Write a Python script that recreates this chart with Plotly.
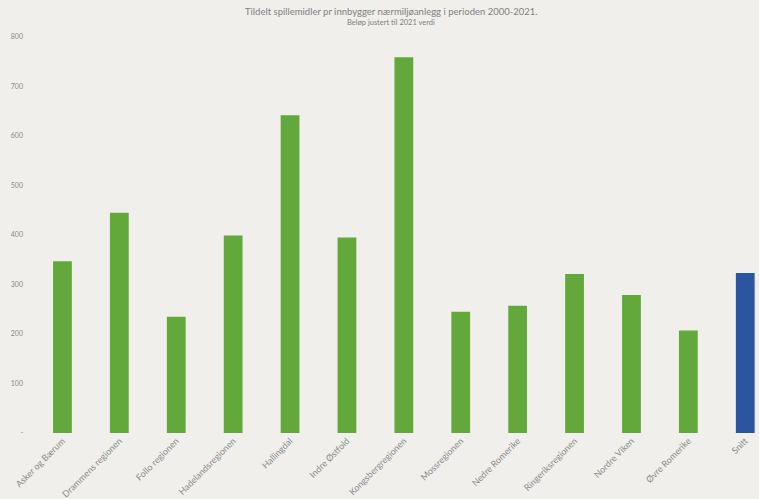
import plotly.graph_objects as go

categories = ["Asker og Bærum", "Drammens regionen", "Follo regionen", "Hadelandsregionen",
              "Hallingdal", "Indre Østfold", "Kongsbergregionen", "Mossregionen",
              "Nedre Romerike", "Ringeriksregionen", "Nordre Viken", "Øvre Romerike", "Snitt"]
values = [347, 445, 235, 399, 642, 395, 759, 245, 257, 321, 279, 207, 323]
colors = ["#62a83a"] * 12 + ["#2b559e"]

y_tickvals = [0, 100, 200, 300, 400, 500, 600, 700, 800]
y_ticktext = ["-", "100", "200", "300", "400", "500", "600", "700", "800"]

title_text = "Tildelt spillemidler pr innbygger nærmiljøanlegg i perioden 2000-2021."
subtitle_text = "Beløp justert til 2021 verdi"

fig = go.Figure(go.Bar(x=categories, y=values, marker=dict(color=colors, line=dict(width=0)),
                       width=0.33))

W, H = 759, 499
left, right_px, top, bottom_px = 34, 759, 37, 433
pitch = 56.9
plot_h = bottom_px - top
plot_w = right_px - left
title_cx = 391


def paper_y(px):
    return (bottom_px - px) / plot_h


def paper_x(px):
    return (px - left) / plot_w


fig.add_annotation(text=title_text, xref="paper", yref="paper", x=paper_x(title_cx),
                   y=paper_y(12), xanchor="center", yanchor="middle", showarrow=False,
                   font=dict(size=9.5, color="#808080"))
fig.add_annotation(text=subtitle_text, xref="paper", yref="paper", x=paper_x(title_cx),
                   y=paper_y(22.5), xanchor="center", yanchor="middle", showarrow=False,
                   font=dict(size=7.5, color="#808080"))

fig.update_layout(
    width=W, height=H,
    margin=dict(l=left, r=W - right_px, t=top, b=H - bottom_px),
    paper_bgcolor="#f0efeb", plot_bgcolor="#f0efeb",
    font=dict(family="Lato, Open Sans, sans-serif", color="#8a8a8a", size=7),
    showlegend=False,
    xaxis=dict(range=[-0.5, -0.5 + plot_w / pitch], tickangle=-45,
               showgrid=False, showline=False, ticks="", tickfont=dict(size=9, color="#8a8a8a")),
    yaxis=dict(range=[0, 800], tickvals=y_tickvals, ticktext=y_ticktext, showgrid=False,
               zeroline=False, showline=False, ticks="", ticklabelstandoff=10,
               tickfont=dict(size=7, color="#8a8a8a")),
)
fig.write_html("out.html", config={"displayModeBar": False},
               post_script="document.body.style.margin='0';document.body.style.overflow='hidden';")
